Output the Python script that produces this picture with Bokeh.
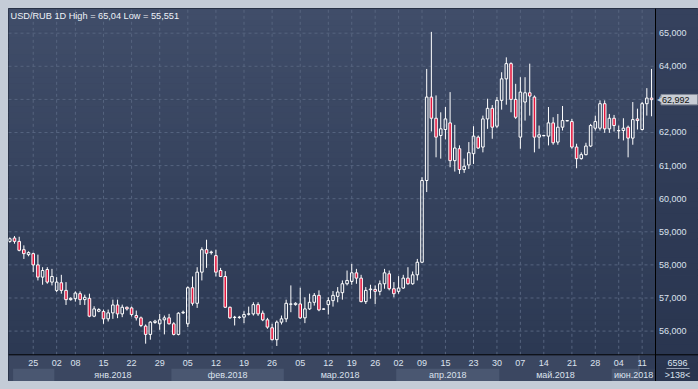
from bokeh.plotting import figure
from bokeh.models import Range1d, Span
from bokeh.core.properties import value
from bokeh.embed import file_html
from bokeh.resources import INLINE

# ---------------- data ----------------
title_text = "USD/RUB 1D High = 65,04 Low = 55,551"

opens = [58.71, 58.81, 58.71, 58.46, 58.31, 58.34, 58.00, 57.63, 57.86, 57.48,
         57.23, 57.46, 57.23, 56.95, 56.98, 57.13, 56.95, 56.99, 56.45, 56.60,
         56.59, 56.37, 56.55, 56.79, 56.52, 56.72, 56.70, 56.47, 56.40, 56.15,
         55.90, 56.26, 56.22, 56.34, 56.40, 56.22, 55.90, 56.55, 56.22, 57.31,
         56.84, 57.78, 58.46, 58.37, 58.28, 57.83, 57.65, 56.72, 56.41, 56.41,
         56.42, 56.51, 56.52, 56.80, 56.54, 56.34, 56.10, 55.74, 56.27, 56.37,
         56.81, 56.80, 56.82, 56.40, 56.67, 56.87, 57.08, 56.66, 56.80, 56.92,
         57.05, 57.16, 57.43, 57.50, 57.76, 57.60, 56.89, 57.25, 57.26, 57.20,
         57.43, 57.73, 57.28, 57.20, 57.30, 57.60, 57.43, 57.70, 58.08, 60.55,
         63.07, 62.43, 61.91, 62.09, 62.29, 61.15, 61.51, 60.88, 61.02, 61.36,
         61.86, 61.56, 62.41, 62.73, 62.19, 62.97, 63.62, 64.08, 63.00, 61.86,
         62.92, 63.20, 63.07, 61.86, 61.90, 61.89, 62.29, 61.71, 62.16, 62.35,
         62.33, 61.56, 61.21, 61.33, 61.59, 62.13, 62.13, 62.87, 62.11, 62.43,
         62.05, 62.06, 62.16, 61.83, 62.41, 62.09, 62.87, 63.04]

highs = [58.83, 58.87, 58.85, 58.59, 58.41, 58.37, 58.31, 57.93, 57.93, 57.88,
         57.63, 57.70, 57.48, 57.02, 57.20, 57.20, 57.10, 57.13, 56.75, 56.69,
         56.65, 56.65, 56.95, 56.95, 56.80, 56.74, 56.74, 56.62, 56.44, 56.20,
         56.30, 56.34, 56.52, 56.47, 56.52, 56.27, 56.57, 56.62, 57.35, 57.65,
         57.93, 58.53, 58.76, 58.43, 58.46, 57.91, 57.81, 56.74, 56.46, 56.46,
         56.60, 56.74, 56.87, 56.87, 56.62, 56.40, 56.22, 56.32, 56.47, 56.95,
         57.38, 56.87, 57.31, 57.02, 57.13, 57.15, 57.23, 56.69, 57.02, 57.21,
         57.33, 57.53, 57.83, 58.03, 57.88, 57.70, 57.33, 57.40, 57.38, 57.53,
         57.88, 57.83, 57.48, 57.66, 57.70, 57.93, 57.80, 58.18, 60.65, 63.92,
         65.04, 63.12, 62.61, 62.77, 63.22, 62.23, 61.61, 61.21, 61.71, 62.19,
         61.91, 62.51, 63.02, 62.83, 63.07, 63.82, 64.27, 64.12, 63.47, 63.67,
         63.67, 64.08, 63.12, 62.21, 61.93, 62.77, 62.46, 62.56, 62.80, 62.37,
         62.41, 61.66, 61.40, 61.69, 62.26, 62.51, 62.97, 62.97, 62.56, 62.53,
         62.21, 62.43, 62.21, 62.92, 62.72, 62.92, 63.34, 63.92]

lows = [58.67, 58.64, 58.41, 58.18, 58.26, 57.78, 57.53, 57.40, 57.43, 57.38,
        57.18, 57.13, 56.79, 56.92, 56.89, 56.79, 56.79, 56.42, 56.42, 56.57,
        56.22, 56.29, 56.37, 56.39, 56.42, 56.62, 56.44, 56.32, 56.12, 55.62,
        55.74, 56.22, 56.04, 55.90, 56.20, 55.87, 55.87, 56.52, 56.12, 56.77,
        56.70, 57.53, 57.91, 58.31, 57.65, 57.63, 56.70, 56.37, 56.17, 56.37,
        56.24, 56.47, 56.47, 56.46, 56.30, 56.07, 55.72, 55.551, 56.20, 56.27,
        56.57, 56.77, 56.37, 56.24, 56.64, 56.77, 56.60, 56.64, 56.50, 56.74,
        56.87, 56.95, 57.38, 57.40, 57.43, 56.87, 56.82, 56.98, 56.82, 57.08,
        57.28, 57.23, 57.02, 57.13, 57.28, 57.40, 57.40, 57.53, 58.06, 60.20,
        62.03, 61.25, 61.21, 61.79, 60.95, 60.82, 60.75, 60.78, 60.90, 61.05,
        61.51, 61.40, 62.11, 61.81, 62.13, 62.69, 62.84, 62.61, 62.41, 61.51,
        62.36, 62.51, 61.40, 61.51, 61.89, 61.61, 61.63, 61.63, 62.06, 62.34,
        61.51, 60.92, 61.18, 61.31, 61.56, 62.06, 62.06, 61.99, 61.99, 62.03,
        61.81, 61.76, 61.25, 61.63, 62.09, 62.06, 62.51, 62.49]

closes = [58.79, 58.71, 58.44, 58.34, 58.37, 58.00, 57.63, 57.83, 57.48, 57.65,
          57.48, 57.23, 56.95, 56.99, 57.15, 56.95, 57.02, 56.45, 56.67, 56.65,
          56.37, 56.55, 56.79, 56.52, 56.72, 56.67, 56.50, 56.40, 56.17, 55.90,
          56.27, 56.30, 56.34, 56.40, 56.22, 55.90, 56.54, 56.57, 57.31, 56.84,
          57.78, 58.46, 58.35, 58.39, 57.78, 57.65, 56.72, 56.40, 56.42, 56.42,
          56.50, 56.52, 56.80, 56.52, 56.34, 56.12, 55.74, 56.27, 56.37, 56.84,
          56.82, 56.84, 56.40, 56.67, 56.87, 57.08, 56.64, 56.67, 56.92, 57.08,
          57.18, 57.43, 57.53, 57.76, 57.60, 56.89, 57.23, 57.27, 57.20, 57.43,
          57.76, 57.28, 57.13, 57.30, 57.60, 57.43, 57.70, 58.08, 60.55, 63.07,
          62.43, 61.86, 62.11, 62.41, 61.15, 61.53, 60.88, 60.98, 61.39, 61.89,
          61.53, 62.41, 62.73, 62.16, 62.97, 63.62, 64.08, 63.00, 62.46, 63.22,
          63.20, 63.10, 61.86, 61.93, 61.91, 62.29, 61.69, 62.16, 62.36, 62.36,
          61.56, 61.21, 61.33, 61.59, 62.21, 62.33, 62.87, 62.11, 62.43, 62.21,
          62.06, 62.13, 61.83, 62.39, 62.36, 62.87, 63.04, 62.992]

last_close = 62.992
volume_text = "6596"
bars_text = ">138<"

price_ticks = [56, 57, 58, 59, 60, 61, 62, 63, 64, 65]
price_labels = ["56,000", "57,000", "58,000", "59,000", "60,000",
                "61,000", "62,000", "63,000", "64,000", "65,000"]

day_tick_idx = [5, 10, 14, 20, 26, 32, 38, 44, 50, 56, 62, 68, 73, 78, 83,
                88, 93, 99, 104, 109, 114, 120, 125, 130, 135]
day_tick_labels = ["25", "02", "08", "15", "22", "29", "05", "12", "19", "26",
                   "05", "12", "19", "26", "02", "09", "15", "23", "30", "07",
                   "14", "21", "28", "04", "11"]

month_labels = ["", "янв.2018", "фев.2018", "мар.2018", "апр.2018", "май.2018", "июн.2018"]
month_starts = [0.7, 9.5, 34.5, 58.5, 82.5, 104.5, 128.5]

# ---------------- layout / style ----------------
W, H = 690, 373                    # figure placed at page (8, 8)
PX_BAR = 4.684                     # pixels per bar
X0 = -0.28                         # data x at the left edge
XR = X0 + W / PX_BAR               # data x at the right edge
Y0, Y1 = 54.477, 65.746
PX_UNIT = H / (Y1 - Y0)


def xdata(page_x):
    return X0 + (page_x - 8) / PX_BAR


def ydata(page_y):
    return Y1 - (page_y - 8) / PX_UNIT


SEP = xdata(655)          # chart / price-scale separator
axis_y = ydata(354.3)     # chart / time-scale separator
day_y = ydata(362.6)
month_y = ydata(374.0)
band_top = ydata(368.3)
title_y = ydata(15.6)

FONT = "Liberation Sans"
RED = "#e3173e"
TXT = "#dbe2ee"
GRID = "#56647f"

p = figure(width=W, height=H, output_backend="svg", toolbar_location=None,
           x_range=Range1d(X0, XR), y_range=Range1d(Y0, Y1),
           x_axis_location=None, y_axis_location=None,
           min_border=0, tools="")
p.xgrid.visible = False
p.ygrid.visible = False
p.border_fill_color = "#2f3b57"
p.background_fill_color = "#35425e"
p.outline_line_color = "#1b2232"


def grad(c0, c1, t):
    return "#%02x%02x%02x" % tuple(int(round(c0[j] + (c1[j] - c0[j]) * t)) for j in range(3))


# gradient background of the chart area and the price scale
nseg = 60
g_b, g_t, g_c, r_b, r_t, r_c = [], [], [], [], [], []
for k in range(nseg):
    t = k / (nseg - 1)
    g_b.append(axis_y + (Y1 - axis_y) * k / nseg)
    g_t.append(axis_y + (Y1 - axis_y) * (k + 1) / nseg + 0.01)
    g_c.append(grad((44, 57, 83), (64, 77, 105), t))
    r_b.append(Y0 + (Y1 - Y0) * k / nseg)
    r_t.append(Y0 + (Y1 - Y0) * (k + 1) / nseg + 0.01)
    r_c.append(grad((41, 53, 79), (53, 65, 93), t))
bg = p.quad(left=X0 - 1, right=SEP, bottom=g_b, top=g_t, fill_color=g_c, line_color=None)
bg.level = "image"
rbg = p.quad(left=SEP, right=XR + 1, bottom=r_b, top=r_t, fill_color=r_c, line_color=None)
rbg.level = "image"

# time-scale panel with alternating month bands
ax_bg = p.quad(left=[X0 - 1], right=[SEP], bottom=[Y0 - 1], top=[axis_y],
               fill_color="#3b4761", line_color=None)
ax_bg.level = "image"
m_ends = month_starts[1:] + [SEP]
band_l = [month_starts[i] for i in range(len(month_starts)) if i % 2 == 0]
band_r = [m_ends[i] for i in range(len(month_starts)) if i % 2 == 0]
bands = p.quad(left=band_l, right=band_r, bottom=[Y0 - 1] * len(band_l),
               top=[band_top] * len(band_l), fill_color="#4a5771", line_color=None)
bands.level = "image"
cur = p.quad(left=[xdata(638.5)], right=[SEP], bottom=[Y0 - 1], top=[axis_y],
             fill_color="#2c3852", fill_alpha=0.7, line_color="#55617a")
cur.level = "image"

# grid
p.segment(x0=day_tick_idx, x1=day_tick_idx, y0=[axis_y] * len(day_tick_idx),
          y1=[Y1] * len(day_tick_idx), line_color=GRID, line_dash="3 3", line_width=1)
p.segment(x0=[X0] * len(price_ticks), x1=[SEP] * len(price_ticks), y0=price_ticks,
          y1=price_ticks, line_color=GRID, line_dash="3 3", line_width=1)

# candles
n = len(opens)
idx = list(range(n))
btop = [max(o, c) for o, c in zip(opens, closes)]
bbot = [min(o, c) for o, c in zip(opens, closes)]
p.segment(x0=idx, x1=idx, y0=btop, y1=highs, line_color="white", line_width=1)
p.segment(x0=idx, x1=idx, y0=lows, y1=bbot, line_color="white", line_width=1)
up = [i for i in idx if closes[i] >= opens[i]]
dn = [i for i in idx if closes[i] < opens[i]]
p.vbar(x=up, top=[btop[i] for i in up], bottom=[bbot[i] for i in up], width=0.55,
       fill_alpha=0, line_color="white", line_width=1)
p.vbar(x=dn, top=[btop[i] for i in dn], bottom=[bbot[i] for i in dn], width=0.55,
       fill_color=RED, line_color="white", line_width=1)

# separators
p.add_layout(Span(location=axis_y, dimension="width", line_color="black", line_width=1))
p.add_layout(Span(location=SEP, dimension="height", line_color="black", line_width=1))

# time labels
p.text(x=day_tick_idx, y=[day_y] * len(day_tick_idx), text=day_tick_labels,
       text_font=value(FONT), text_font_size=value("9px"), text_color=TXT,
       text_align="center", text_baseline="middle")
m_x, m_t = [], []
for i, lab in enumerate(month_labels):
    if lab:
        m_x.append((month_starts[i] + m_ends[i]) / 2)
        m_t.append(lab)
p.text(x=m_x, y=[month_y] * len(m_x), text=m_t,
       text_font=value(FONT), text_font_size=value("9px"), text_color=TXT,
       text_align="center", text_baseline="middle")

# price scale labels
p.text(x=[SEP] * len(price_ticks), y=price_ticks, text=price_labels, x_offset=3.5,
       text_font=value(FONT), text_font_size=value("9px"), text_color=TXT,
       text_align="left", text_baseline="middle")

# title
p.text(x=[X0], y=[title_y], text=[title_text], x_offset=2,
       text_font=value(FONT), text_font_size=value("9.2px"), text_color="#eef2f8",
       text_align="left", text_baseline="middle")

# last price marker
half = 5.2 / PX_UNIT
p.quad(left=[xdata(660.5)], right=[xdata(697)], bottom=[last_close - half],
       top=[last_close + half], fill_color="#c9cdd5", line_color="#858c99")
p.text(x=[SEP], y=[last_close], text=["◀"], x_offset=1.5,
       text_font=value("DejaVu Sans"), text_font_size=value("8px"), text_color="#c9cdd5",
       text_align="left", text_baseline="middle")
p.text(x=[xdata(661.5)], y=[last_close], text=[f"{last_close:.3f}".replace(".", ",")],
       text_font=value(FONT), text_font_size=value("9px"), text_color="#111111",
       text_align="left", text_baseline="middle")

# bottom-right counters
p.text(x=[xdata(677)], y=[day_y], text=[volume_text],
       text_font=value(FONT), text_font_size=value("9px"), text_color=TXT,
       text_align="center", text_baseline="middle")
p.segment(x0=[xdata(666)], x1=[xdata(689)], y0=[ydata(368)], y1=[ydata(368)],
          line_color="#9aa4b5", line_width=1)
p.text(x=[xdata(677)], y=[month_y], text=[bars_text],
       text_font=value(FONT), text_font_size=value("9px"), text_color=TXT,
       text_align="center", text_baseline="middle")

html = file_html(p, INLINE, title="USD/RUB")
html = html.replace("</head>",
                    "<style>html, body { background: #c4ccd7 !important; }"
                    " body { padding: 8px 0 0 8px !important; box-sizing: border-box; }"
                    "</style></head>", 1)
open("out.html", "w").write(html)
